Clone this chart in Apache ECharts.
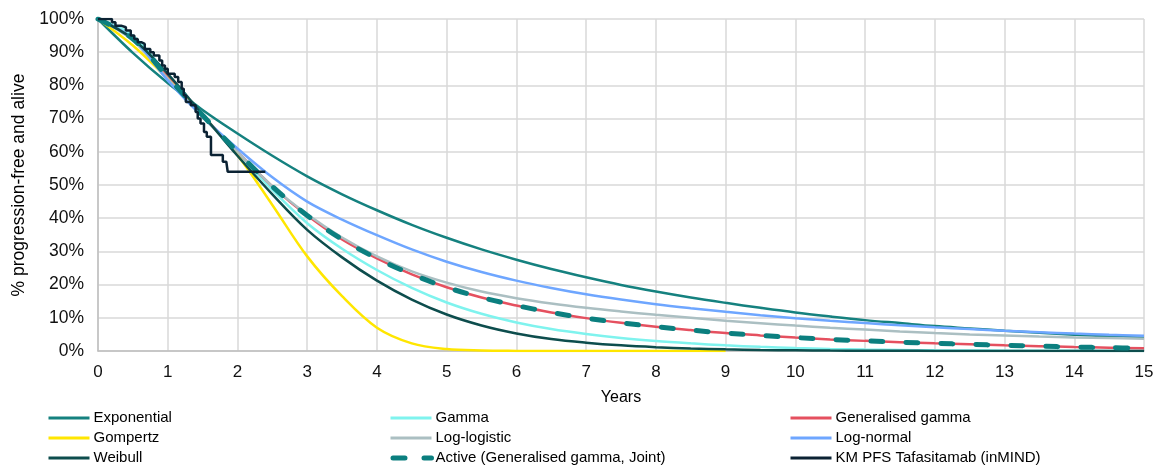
<!DOCTYPE html>
<html>
<head>
<meta charset="utf-8">
<title>PFS extrapolations</title>
<script src="https://cdn.jsdelivr.net/npm/echarts@6/dist/echarts.min.js"></script>
<style>
  html, body { margin: 0; padding: 0; background: #ffffff; }
  #chart { width: 1158px; height: 468px; }
</style>
</head>
<body>
<div id="chart"></div>
<script>
// Time grid (years) shared by the parametric curves
const years = [0, 0.5, 1, 1.5, 2, 2.5, 3, 3.5, 4, 4.5, 5, 5.5, 6, 6.5, 7, 7.5,
  8, 8.5, 9, 9.5, 10, 10.5, 11, 11.5, 12, 12.5, 13, 13.5, 14, 14.5, 15];

// Survival (%) for each fitted distribution, one value per entry of `years`
const exponential = [100, 89.8, 80.7, 72.6, 65.5, 58.8, 52.6, 47.2, 42.4, 38.0, 34.1, 30.6, 27.5, 24.7, 22.2, 19.9,
  17.9, 16.1, 14.5, 13.0, 11.6, 10.4, 9.3, 8.4, 7.5, 6.8, 6.1, 5.5, 4.9, 4.4, 4.0];
const gamma = [100, 95, 83, 71, 59.8, 48.5, 38.5, 30.8, 24.4, 19.0, 14.6, 11.2, 8.6, 6.6, 5.1, 3.9,
  3.0, 2.3, 1.7, 1.25, 0.9, 0.62, 0.43, 0.3, 0.2, 0.14, 0.1, 0.07, 0.05, 0.03, 0.02];
const genGamma = [100, 94, 82.5, 71, 60, 49.6, 40.8, 33.6, 27.9, 23.1, 19.2, 16.1, 13.7, 11.6, 9.9, 8.5,
  7.3, 6.3, 5.4, 4.7, 4.05, 3.5, 3.05, 2.65, 2.3, 2.0, 1.7, 1.45, 1.2, 1.0, 0.8];
const gompertz = [100, 92, 82, 71, 59, 44, 28.5, 16.5, 7.0, 2.3, 0.6, 0.15, 0.03, 0, 0, 0,
  0, 0, 0];
const logLogistic = [100, 93.5, 82, 70.5, 60, 49.6, 41.2, 34.2, 28.5, 24.0, 20.6, 17.9, 15.9, 14.3, 13.0, 11.9,
  10.9, 10.0, 9.1, 8.35, 7.65, 7.0, 6.45, 5.9, 5.4, 5.0, 4.65, 4.35, 4.1, 3.9, 3.7];
const logNormal = [100, 94, 81.5, 70.5, 61, 52.3, 45, 39.6, 34.9, 30.6, 26.9, 23.8, 21.2, 19.0, 17.1, 15.5,
  14.1, 12.9, 11.8, 10.8, 9.9, 9.1, 8.4, 7.75, 7.15, 6.6, 6.1, 5.65, 5.25, 4.9, 4.6];
const weibull = [100, 94, 83.5, 71.2, 58.8, 47.2, 36.5, 28.2, 21.2, 15.5, 11.0, 7.7, 5.3, 3.6, 2.5, 1.7,
  1.15, 0.75, 0.5, 0.32, 0.2, 0.12, 0.08, 0.05, 0.03, 0.02, 0.01, 0, 0, 0, 0];
// Selected model: generalised gamma fitted jointly
const activeJoint = genGamma;

// Kaplan-Meier PFS, tafasitamab (inMIND): event times (years) and % event-free
const kmTimes = [0, 0.17, 0.2, 0.25, 0.33, 0.4, 0.47, 0.52, 0.57, 0.62, 0.67, 0.75, 0.8, 0.88, 0.92, 0.96,
  1.0, 1.1, 1.15, 1.2, 1.23, 1.26, 1.33, 1.4, 1.43, 1.47, 1.52, 1.56, 1.62, 1.79, 1.84, 1.86, 2.4];
const kmSurv = [100, 100, 99, 98, 97.5, 96.5, 95, 94, 93, 92.5, 91, 90, 89, 87.5, 86, 85,
  83.5, 82.5, 81, 79, 77, 75, 74, 72, 70, 68.5, 66, 64.5, 59, 57, 56.5, 54, 54];

const yTicks = ['0%', '10%', '20%', '30%', '40%', '50%', '60%', '70%', '80%', '90%', '100%'];

const pairs = (xs, ys) => ys.map((v, i) => [xs[i], v]);

function curve(name, values, color, extra) {
  return Object.assign({
    name: name,
    type: 'line',
    data: pairs(years, values),
    symbol: 'none',
    smooth: 0.35,
    lineStyle: { color: color, width: 2.5 },
    itemStyle: { color: color },
    emphasis: { disabled: true },
    animation: false
  }, extra || {});
}

const font = 'Liberation Sans, Arial, sans-serif';
const activeDash = { width: 5, type: [12, 23], cap: 'round' };
const legendBase = {
  orient: 'vertical',
  top: 410,
  height: 58,
  padding: 0,
  itemWidth: 41,
  itemHeight: 12,
  itemGap: 4,
  // legend keys show the line only
  itemStyle: { color: 'rgba(0,0,0,0)', borderWidth: 0, opacity: 0 },
  lineStyle: { width: 3 },
  textStyle: { fontFamily: font, fontSize: 15, color: '#000', lineHeight: 16, padding: [0, 0, 0, -1] },
  selectedMode: false
};

const option = {
  backgroundColor: '#ffffff',
  animation: false,
  grid: { left: 98, right: 14, top: 19, bottom: 117 },
  xAxis: {
    type: 'value',
    min: 0, max: 15, interval: 1,
    name: 'Years',
    nameLocation: 'middle',
    nameGap: 39,
    nameTextStyle: { fontFamily: font, fontSize: 16, color: '#000' },
    axisLine: { show: true, lineStyle: { color: '#bfbfbf', width: 1.5 } },
    axisTick: { show: false },
    axisLabel: { fontFamily: font, fontSize: 17, color: '#111', margin: 13 },
    splitLine: { show: true, lineStyle: { color: '#d9d9d9', width: 1.5 } }
  },
  yAxis: {
    type: 'value',
    min: 0, max: 100, interval: 10,
    name: '% progression-free and alive',
    nameLocation: 'middle',
    nameGap: 66,
    nameRotate: 90,
    nameTextStyle: { fontFamily: font, fontSize: 17.5, color: '#000' },
    axisLine: { show: true, lineStyle: { color: '#bfbfbf', width: 1.5 } },
    axisTick: { show: false },
    axisLabel: {
      fontFamily: font, fontSize: 17.5, color: '#111', margin: 14,
      formatter: v => yTicks[Math.round(v / 10)]
    },
    splitLine: { show: true, lineStyle: { color: '#d9d9d9', width: 1.5 } }
  },
  legend: [
    Object.assign({}, legendBase, { left: 47, data: ['Exponential', 'Gompertz', 'Weibull'] }),
    Object.assign({}, legendBase, {
      left: 388,
      data: ['Gamma', 'Log-logistic', {
        name: 'Active (Generalised gamma, Joint)',
        lineStyle: { width: 5, type: [12, 19], cap: 'round', dashOffset: -2.5 }
      }]
    }),
    Object.assign({}, legendBase, { left: 789, data: ['Generalised gamma', 'Log-normal', 'KM PFS Tafasitamab (inMIND)'] })
  ],
  series: [
    curve('Exponential', exponential, '#15817f'),
    curve('Gamma', gamma, '#7ff3ee'),
    curve('Generalised gamma', genGamma, '#e5505f'),
    curve('Gompertz', gompertz, '#ffe600'),
    curve('Log-logistic', logLogistic, '#abbfc2'),
    curve('Log-normal', logNormal, '#6ea6ff'),
    curve('Weibull', weibull, '#0d4d4d'),
    curve('Active (Generalised gamma, Joint)', activeJoint, '#0b7f7f', {
      lineStyle: Object.assign({ color: '#0b7f7f' }, activeDash)
    }),
    {
      name: 'KM PFS Tafasitamab (inMIND)',
      type: 'line',
      step: 'end',
      data: pairs(kmTimes, kmSurv),
      symbol: 'none',
      lineStyle: { color: '#0b2233', width: 2.5 },
      itemStyle: { color: '#0b2233' },
      emphasis: { disabled: true },
      animation: false
    }
  ]
};

const chart = echarts.init(document.getElementById('chart'), null, { renderer: 'canvas' });
chart.setOption(option);
</script>
</body>
</html>
